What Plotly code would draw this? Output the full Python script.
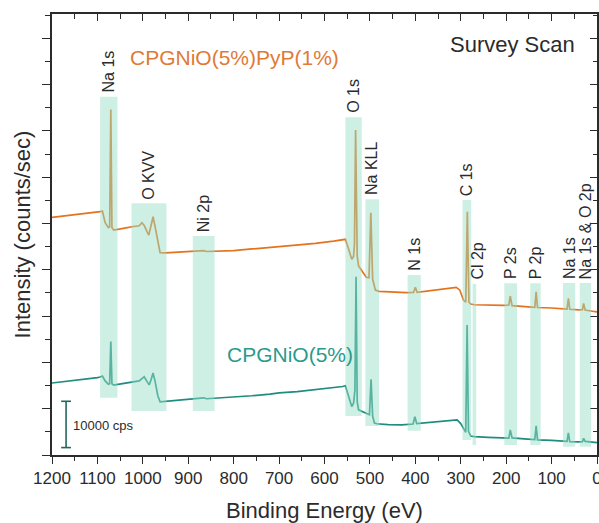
import plotly.graph_objects as go

# Binding energy (eV) and intensity (counts/sec) for CPGNiO(5%)
be_green = [1200, 1180, 1160, 1140, 1120, 1100, 1094, 1089, 1083, 1076, 1073, 1070.5, 1068,
            1064, 1055, 1040, 1024, 1008, 1002, 997, 991, 986, 982, 977.5, 973, 967, 962,
            950, 930, 900, 880, 866, 860, 840, 800, 760, 720, 700, 660, 620, 580, 560,
            554, 548, 540, 536, 533, 530.5, 528, 525, 516, 507, 501, 497.5, 494, 490,
            485, 460, 430, 405, 401, 397, 370, 340, 315, 308, 300, 293, 289, 286, 283,
            278, 270, 240, 205, 194, 191, 187, 160, 137, 134, 131, 100, 80, 66, 63, 60,
            40, 32, 29.5, 26, 10, 0]
int_green = [15550, 15750, 15950, 16150, 16400, 16700, 16850, 17050, 16000, 15300, 15400, 24500, 15400,
             15100, 15250, 15500, 15800, 16000, 16500, 16900, 15900, 15150, 16200, 17700, 15900, 12800, 11500,
             11600, 11800, 12000, 12100, 12350, 12150, 12250, 12450, 12800, 13150, 13400, 13700, 14100, 14500, 14800,
             14950, 13000, 10450, 11200, 14000, 38500, 11500, 9750, 9300, 8850, 8700, 16350, 8400, 6900,
             6750, 6550, 6500, 6700, 8270, 6800, 7000, 7250, 7500, 7560, 6800, 5400, 4900, 28100, 5100,
             4100, 3950, 3800, 3650, 3650, 5400, 3700, 3500, 3350, 6300, 3250, 3150, 3050, 2950, 4800, 2900,
             2850, 2900, 3600, 2950, 2800, 2660]

# Binding energy (eV) and intensity (counts/sec) for CPGNiO(5%)PyP(1%)
be_orange = [1200, 1180, 1160, 1140, 1120, 1100, 1094, 1089, 1083, 1076, 1073, 1070.5, 1068,
             1064, 1055, 1040, 1024, 1008, 1002, 997, 991, 987, 982, 977.5, 973, 967, 962,
             950, 930, 900, 880, 866, 860, 840, 800, 760, 720, 700, 660, 620, 580, 560,
             554, 548, 540, 536, 534, 531.5, 528, 525, 516, 508, 502, 498, 494, 488,
             480, 450, 420, 404, 400, 396, 370, 340, 310, 302, 294, 289, 285.5, 282,
             278, 270, 240, 205, 194, 191, 187, 160, 137, 134, 131, 100, 80, 66, 63, 60,
             40, 32, 29.5, 26, 10, 0]
int_orange = [51340, 51550, 51750, 51950, 52150, 52330, 52550, 52700, 50200, 49100, 49300, 74600, 49100,
              48600, 48800, 49000, 49300, 49500, 50170, 49600, 48300, 47500, 49500, 51460, 49300, 45800, 43700,
              43650, 43750, 43850, 43950, 44150, 43950, 44000, 44150, 44500, 44800, 45000, 45300, 45700, 46200, 46450,
              46590, 44800, 42270, 42900, 45500, 70200, 43000, 40820, 39400, 38380, 38300, 52330, 38000, 35640,
              35350, 35150, 35050, 35100, 36200, 35150, 35450, 35800, 36200, 35600, 33480, 33000, 52550, 33000,
              32600, 32450, 32350, 32300, 32400, 34340, 32250, 32000, 31900, 35270, 31850, 31750, 31600, 31500, 33840, 31470,
              31350, 31400, 32760, 31300, 31050, 30900]

# Shaded regions: label, low / high binding energy, bottom / top intensity, label x position
band_labels = ["Na 1s", "O KVV", "Ni 2p", "O 1s", "Na KLL", "N 1s", "C 1s", "Cl 2p",
               "P 2s", "P 2p", "Na 1s", "Na 1s & O 2p"]
band_lo = [1056, 948, 842, 518, 480, 388, 277, 266, 176, 124, 48, 13]
band_hi = [1094, 1025, 890, 554, 510, 417, 296, 274, 204, 147, 75, 38]
band_bottom = [12380, 9500, 9500, 8420, 6260, 5250, 3240, 2160, 2160, 2160, 1790, 1790]
band_top = [77390, 54360, 47300, 72940, 55230, 38880, 55080, 36930, 37080, 37080, 37150, 37150]
label_x = [1075, 986.5, 866, 536, 495, 402.5, 286.5, 264, 190, 135.5, 61.5, 25.5]

# Axis ticks
x_tickvals = [1200, 1100, 1000, 900, 800, 700, 600, 500, 400, 300, 200, 100, 0]
x_ticktext = ["1200", "1100", "1000", "900", "800", "700", "600", "500", "400", "300", "200", "100", "0"]

# Scale bar (10000 counts/sec)
scale_be = 1169
scale_lo = 1600
scale_cps = 10000

x_range = [1200, 0]
y_range = [0, 95250]

ORANGE = "#E3731F"
TEAL = "#1F8C7E"
FONT = "Liberation Sans, Arial, sans-serif"
INK = "#2b2b2b"

fig = go.Figure()

fig.add_trace(go.Scatter(x=be_orange, y=int_orange, mode="lines",
                         line=dict(color=ORANGE, width=1.7), showlegend=False,
                         hoverinfo="skip"))
fig.add_trace(go.Scatter(x=be_green, y=int_green, mode="lines",
                         line=dict(color=TEAL, width=1.7), showlegend=False,
                         hoverinfo="skip"))

# scale bar
fig.add_trace(go.Scatter(x=[scale_be, scale_be], y=[scale_lo, scale_lo + scale_cps],
                         mode="lines+markers",
                         line=dict(color="#24675F", width=1.6),
                         marker=dict(symbol="line-ew", size=7,
                                     line=dict(color="#24675F", width=1.6)),
                         showlegend=False, hoverinfo="skip"))

# carrier for the mirrored top / right axes
fig.add_trace(go.Scatter(x=x_range, y=y_range, xaxis="x2", yaxis="y2", mode="markers",
                         marker=dict(opacity=0), showlegend=False, hoverinfo="skip"))

# shaded peak regions, drawn over the spectra
for lo, hi, b, t in zip(band_lo, band_hi, band_bottom, band_top):
    fig.add_shape(type="rect", x0=hi, x1=lo, y0=b, y1=t, xref="x", yref="y",
                  fillcolor="rgba(150, 222, 198, 0.48)", line=dict(width=0),
                  layer="above")

for lab, lx, t in zip(band_labels, label_x, band_top):
    fig.add_annotation(x=lx, y=t, text=lab, textangle=-90, showarrow=False,
                       xanchor="center", yanchor="bottom", yshift=2,
                       font=dict(family=FONT, size=16, color=INK))

fig.add_annotation(x=1032, y=85750, text="CPGNiO(5%)PyP(1%)", showarrow=False,
                   xanchor="left", yanchor="middle",
                   font=dict(family=FONT, size=21, color="#DF7A36"))
fig.add_annotation(x=818, y=21600, text="CPGNiO(5%)", showarrow=False,
                   xanchor="left", yanchor="middle",
                   font=dict(family=FONT, size=21, color="#2A9A8C"))
fig.add_annotation(x=43, y=88770, text="Survey Scan", showarrow=False,
                   xanchor="right", yanchor="middle",
                   font=dict(family=FONT, size=22, color=INK))
fig.add_annotation(x=1158, y=6480, text="10000 cps", showarrow=False,
                   xanchor="left", yanchor="middle",
                   font=dict(family=FONT, size=13, color=INK))

axis_common = dict(showgrid=False, zeroline=False, showline=True, linecolor=INK,
                   linewidth=1.6, tickcolor=INK, tickwidth=1.4)

fig.update_layout(
    width=599, height=523,
    margin=dict(l=52, r=2, t=14, b=68, autoexpand=False),
    paper_bgcolor="white", plot_bgcolor="white",
    xaxis=dict(range=x_range, tickvals=x_tickvals, ticktext=x_ticktext,
               ticks="outside", ticklen=7, ticklabeloverflow="allow",
               minor=dict(dtick=50, ticks="outside", ticklen=4, tickcolor=INK, tickwidth=1.4),
               tickfont=dict(family=FONT, size=17, color=INK),
               title=dict(text="Binding Energy (eV)", standoff=16,
                          font=dict(family=FONT, size=22, color=INK)),
               **axis_common),
    yaxis=dict(range=y_range, dtick=10000, tick0=0, showticklabels=False,
               ticks="outside", ticklen=8,
               minor=dict(dtick=5000, ticks="outside", ticklen=5, tickcolor=INK, tickwidth=1.4),
               title=dict(text="Intensity (counts/sec)", standoff=6,
                          font=dict(family=FONT, size=22, color=INK)),
               **axis_common),
    xaxis2=dict(range=x_range, overlaying="x", side="top", anchor="y",
                tickvals=x_tickvals, showticklabels=False, ticks="inside", ticklen=7,
                minor=dict(dtick=50, ticks="inside", ticklen=5, tickcolor=INK, tickwidth=1.4),
                **axis_common),
    yaxis2=dict(range=y_range, overlaying="y", side="right", anchor="x",
                dtick=10000, tick0=0, showticklabels=False, ticks="inside", ticklen=7,
                minor=dict(dtick=5000, ticks="inside", ticklen=4, tickcolor=INK, tickwidth=1.4),
                **axis_common),
)

fig.write_html("out.html")
